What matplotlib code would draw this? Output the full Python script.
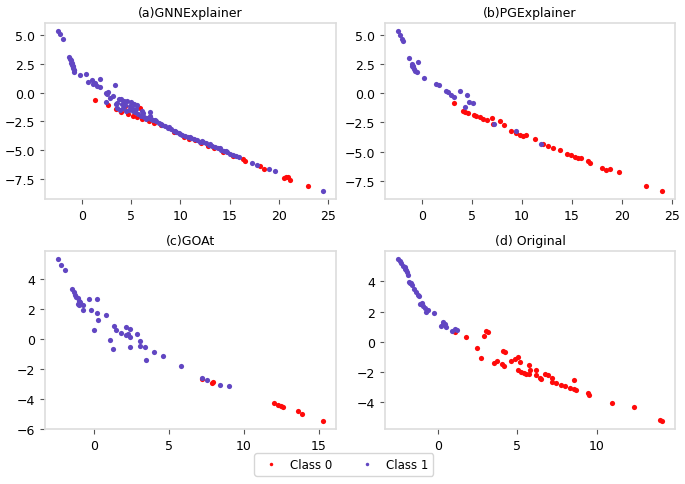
import numpy as np
import matplotlib
matplotlib.use("Agg")
import matplotlib.pyplot as plt
from matplotlib.ticker import MultipleLocator

RED = "#ff0a0a"
PURPLE = "#6146c2"

# ----------------------------------------------------------------------
#  Embedding points (x, y)
# ----------------------------------------------------------------------
gnn_class1 = [
    (-2.4, 5.35), (-2.2, 5.05), (-1.95, 4.65), (-1.3, 3.1), (-1.2, 2.95), (-1.15, 2.8),
    (-1.05, 2.6), (-1.0, 2.4), (-0.95, 2.25), (-0.9, 2.1), (-0.85, 1.95), (-0.8, 1.8),
    (-0.75, 2.0), (-0.2, 1.55), (0.4, 1.65), (0.65, 0.9), (1.0, 1.1), (1.3, 0.8),
    (1.8, 1.2), (1.5, 0.6), (1.85, 0.5), (2.4, -0.05), (2.7, 0.05), (3.4, 0.65),
    (2.4, -0.85), (2.9, -0.45), (3.2, -0.3), (3.6, -0.9), (3.8, -0.6), (4.0, -0.55),
    (4.3, -0.7), (4.6, -0.75), (5.0, -0.85), (5.3, -0.95), (5.6, -1.1), (3.6, -1.3),
    (3.9, -1.5), (4.2, -1.3), (4.5, -1.6), (4.8, -1.5), (5.1, -1.3), (5.4, -1.7),
    (5.7, -1.9), (6.0, -2.0), (6.3, -2.1), (6.6, -2.2), (6.9, -2.0), (6.9, -1.7),
    (7.2, -2.4), (7.5, -2.5), (7.8, -2.6), (8.1, -2.8), (8.4, -2.9), (8.7, -3.1),
    (9.0, -3.2), (9.3, -3.35), (9.6, -3.45), (9.9, -3.55), (10.2, -3.65), (10.5, -3.75),
    (10.8, -3.85), (11.1, -3.95), (11.4, -4.05), (11.7, -4.15), (12.0, -4.25), (12.3, -4.3),
    (12.6, -4.4), (12.9, -4.55), (13.2, -4.65), (13.5, -4.75), (13.8, -4.85), (14.1, -4.95),
    (14.4, -5.05), (14.7, -5.2), (15.0, -5.35), (15.3, -5.45), (15.6, -5.55), (15.9, -5.62),
    (17.3, -6.1), (17.8, -6.3), (19.0, -6.65), (19.6, -6.85), (24.45, -8.55),
    (5.2, -1.6), (5.5, -1.4), (6.2, -1.8), (6.5, -2.3), (7.0, -2.3), (8.0, -2.7),
    (8.8, -3.0), (9.5, -3.3), (10.0, -3.6), (11.0, -3.9), (12.2, -4.2), (13.0, -4.5),
    (14.0, -4.85), (14.6, -5.1), (3.5, -1.0), (4.1, -1.0), (4.4, -1.1), (2.55, -0.1),
    (1.1, 0.75), (-0.9, 2.3), (-1.1, 2.55), (4.9, -1.2), (6.1, -1.6), (7.4, -2.35),
]
gnn_class0 = [
    (1.35, -0.65), (2.7, -1.05), (3.5, -1.45), (4.4, -1.2), (5.9, -1.3), (4.0, -1.7),
    (4.7, -1.85), (5.2, -2.05), (5.6, -2.15), (6.1, -2.3), (6.8, -2.5), (7.3, -2.65),
    (8.0, -2.85), (9.3, -3.45), (10.4, -3.85), (10.9, -4.0), (11.5, -4.15), (12.1, -4.35),
    (12.8, -4.6), (13.4, -4.8), (14.3, -5.15), (15.3, -5.55), (16.4, -5.8), (16.6, -5.9),
    (18.1, -6.4), (18.5, -6.65), (20.5, -7.4), (20.7, -7.3), (20.9, -7.35), (21.1, -7.55),
    (23.0, -8.1),
]

pg_class1 = [
    (-2.35, 5.37), (-2.18, 5.03), (-1.95, 4.72), (-1.85, 4.52), (-1.24, 3.05), (-1.0, 2.54),
    (-0.9, 2.26), (-0.77, 2.12), (-0.67, 1.97), (-0.5, 1.83), (-0.34, 2.74), (-1.0, 2.4),
    (-0.84, 2.4), (0.27, 1.35), (1.41, 0.84), (1.74, 0.7), (2.45, 0.22), (2.68, 0.08),
    (2.92, -0.15), (3.19, -0.35), (3.86, 0.19), (4.53, -0.15), (4.7, -0.7), (5.13, -0.85),
    (4.36, -1.14), (7.2, -2.6), (9.46, -3.26), (11.9, -4.33),
]
pg_class0 = [
    (3.26, -0.85), (4.1, -1.48), (4.36, -1.56), (4.6, -1.7), (5.2, -1.9), (5.47, -1.98),
    (5.8, -2.04), (6.14, -2.18), (6.54, -2.32), (6.98, -2.12), (7.15, -2.64), (7.79, -2.4),
    (8.2, -2.69), (8.9, -3.2), (9.4, -3.4), (9.83, -3.54), (10.17, -3.68), (10.4, -3.6),
    (11.3, -3.96), (12.15, -4.33), (12.65, -4.5), (13.15, -4.67), (13.86, -4.84), (14.5, -5.18),
    (14.93, -5.32), (15.37, -5.46), (15.6, -5.58), (15.94, -5.52), (16.6, -5.8), (16.78, -6.0),
    (18.0, -6.43), (18.46, -6.6), (18.8, -6.5), (19.7, -6.8), (22.4, -7.98), (24.0, -8.4),
]

goat_class1 = [
    (-2.4, 5.33), (-2.22, 4.95), (-1.96, 4.62), (-1.47, 3.34), (-1.36, 3.12), (-1.29, 2.96),
    (-1.18, 2.78), (-1.07, 2.74), (-1.02, 2.56), (-0.96, 2.47), (-1.11, 2.34), (-1.0, 2.25),
    (-0.73, 2.23), (-0.73, 1.9), (-0.36, 2.63), (0.16, 2.67), (-0.22, 1.9), (0.16, 1.7),
    (0.24, 1.26), (0.82, 1.57), (0.0, 0.57), (1.31, 0.86), (1.49, 0.59), (1.09, -0.09),
    (1.27, -0.65), (1.82, 0.39), (2.11, 0.79), (2.11, 0.26), (2.27, 0.31), (2.38, 0.15),
    (2.38, 0.64), (2.38, -0.54), (2.89, 0.31), (3.04, -0.18), (3.09, -0.47), (3.42, -0.58),
    (4.0, -0.85), (3.49, -1.42), (4.6, -1.13), (5.82, -1.8), (7.2, -2.62), (7.53, -2.75),
    (8.42, -3.12), (9.0, -3.17),
]
goat_class0 = [
    (7.2, -2.68), (7.89, -2.95), (7.93, -2.9), (11.98, -4.27), (12.27, -4.41), (12.49, -4.52),
    (12.6, -4.56), (13.6, -4.85), (13.89, -5.0), (15.27, -5.49),
]

orig_class1 = [
    (-2.5, 5.46), (-2.4, 5.35), (-2.29, 5.2), (-2.19, 5.02), (-2.1, 4.92), (-2.0, 4.72),
    (-1.94, 4.61), (-1.88, 4.44), (-1.79, 3.96), (-1.73, 3.85), (-1.63, 3.74), (-1.48, 3.46),
    (-1.38, 3.28), (-1.27, 3.08), (-1.17, 3.02), (-1.1, 2.47), (-1.0, 2.58), (-0.94, 2.37),
    (-0.79, 2.26), (-0.73, 2.0), (-0.63, 2.08), (-0.27, 1.89), (0.21, 1.06), (0.35, 1.28),
    (0.46, 1.17), (0.52, 0.95), (0.3, 1.2), (0.92, 0.73), (1.08, 0.84), (1.19, 0.78),
    (-1.7, 3.9), (-2.05, 4.8),
]
orig_class0 = [
    (1.08, 0.62), (1.77, 0.3), (2.48, -0.4), (2.69, -1.05), (3.0, 0.73), (3.17, 0.62),
    (2.92, 0.4), (3.54, -1.4), (3.75, -1.29), (4.1, -0.58), (4.25, -0.64), (4.06, -1.45),
    (4.15, -1.62), (4.63, -1.27), (4.83, -1.12), (5.04, -0.97), (5.19, -1.34), (5.04, -1.88),
    (5.25, -1.99), (5.42, -2.06), (5.56, -2.1), (5.71, -2.14), (5.73, -1.56), (5.83, -1.84),
    (6.19, -1.84), (6.19, -2.21), (6.46, -2.38), (6.5, -2.47), (6.77, -2.1), (6.92, -2.17),
    (7.17, -2.36), (7.17, -2.64), (7.44, -2.75), (7.75, -2.86), (8.02, -2.93), (8.33, -3.04),
    (8.54, -2.49), (8.54, -3.12), (8.69, -3.19), (9.46, -3.41), (9.52, -3.52), (10.98, -4.06),
    (12.38, -4.28), (14.0, -5.15), (14.1, -5.22),
]

titles = ["(a)GNNExplainer", "(b)PGExplainer", "(c)GOAt", "(d) Original"]
panels = [
    (gnn_class0, gnn_class1),
    (pg_class0, pg_class1),
    (goat_class0, goat_class1),
    (orig_class0, orig_class1),
]

# axes rectangles in figure fractions (left, bottom, width, height)
rects = [
    (0.0657, 0.5876, 0.4248, 0.3629),
    (0.5620, 0.5876, 0.4234, 0.3629),
    (0.0657, 0.1134, 0.4248, 0.3670),
    (0.5620, 0.1134, 0.4234, 0.3670),
]

fig = plt.figure(figsize=(6.85, 4.85), dpi=100)
for title, (c0, c1), rect in zip(titles, panels, rects):
    ax = fig.add_axes(rect)
    c0 = np.array(c0)
    c1 = np.array(c1)
    ax.scatter(c0[:, 0], c0[:, 1], s=14, color=RED, linewidths=0, label="Class 0", zorder=2)
    ax.scatter(c1[:, 0], c1[:, 1], s=14, color=PURPLE, linewidths=0, label="Class 1", zorder=3)
    ax.xaxis.set_major_locator(MultipleLocator(5))
    ax.set_title(title, fontsize=9, pad=5)
    ax.tick_params(labelsize=9, length=3.5, width=0.8, color="#555555")
    for sp in ax.spines.values():
        sp.set_color("#dddddd")
        sp.set_linewidth(1.2)

handles = [
    plt.Line2D([], [], linestyle="", marker="o", markersize=2.5, color=RED, markeredgewidth=0),
    plt.Line2D([], [], linestyle="", marker="o", markersize=2.5, color=PURPLE, markeredgewidth=0),
]
fig.legend(handles, ["Class 0", "Class 1"], loc="lower center", ncol=2,
           bbox_to_anchor=(0.502, 0.005), fontsize=8.5, frameon=True,
           handletextpad=0.6, columnspacing=2.0)

fig.savefig("out.png", dpi=100)
